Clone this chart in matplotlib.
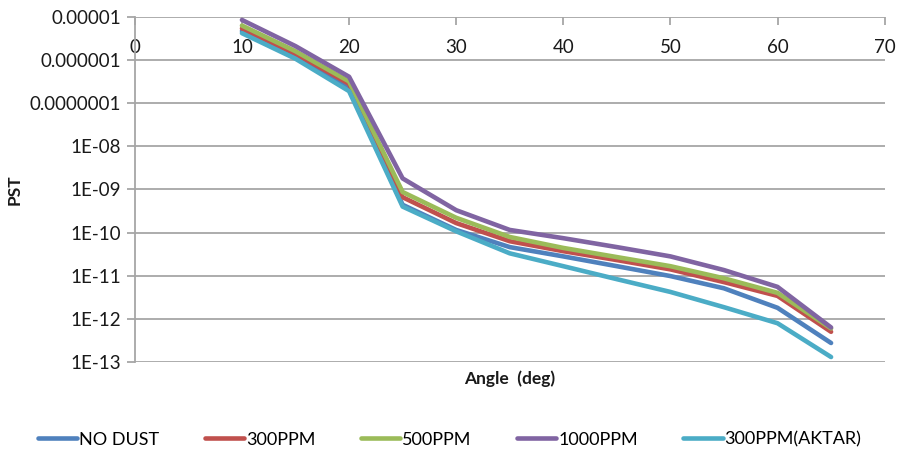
import matplotlib
matplotlib.use("Agg")
import matplotlib.pyplot as plt
from matplotlib.ticker import FixedLocator, FixedFormatter, NullLocator

# angle of incidence (deg)
angles = [10, 15, 20, 25, 30, 35, 40, 45, 50, 55, 60, 65]

# PST values
no_dust = [4.7e-6, 1.2e-6, 2.2e-7, 4.4e-10, 1.15e-10, 4.6e-11, 2.8e-11, 1.66e-11, 9.8e-12, 5.1e-12, 1.8e-12, 2.75e-13]
ppm300 = [5.4e-6, 1.4e-6, 2.8e-7, 6.6e-10, 1.66e-10, 6.3e-11, 3.7e-11, 2.3e-11, 1.4e-11, 7.1e-12, 3.4e-12, 5.0e-13]
ppm500 = [6.3e-6, 1.6e-6, 3.2e-7, 8.7e-10, 2.2e-10, 7.9e-11, 4.4e-11, 2.7e-11, 1.66e-11, 8.7e-12, 4.0e-12, 6.0e-13]
ppm1000 = [8.5e-6, 2.1e-6, 4.1e-7, 1.8e-9, 3.3e-10, 1.15e-10, 7.4e-11, 4.6e-11, 2.8e-11, 1.35e-11, 5.5e-12, 6.3e-13]
ppm300_aktar = [4.2e-6, 1.07e-6, 1.9e-7, 4.0e-10, 1.07e-10, 3.3e-11, 1.66e-11, 8.3e-12, 4.2e-12, 1.86e-12, 7.9e-13, 1.3e-13]

series_names = ["NO DUST", "300PPM", "500PPM", "1000PPM", "300PPM(AKTAR)"]
series_colors = ["#4F81BD", "#C0504D", "#9BBB59", "#8064A2", "#4BACC6"]

x_ticks = [0, 10, 20, 30, 40, 50, 60, 70]
y_ticks = [1e-5, 1e-6, 1e-7, 1e-8, 1e-9, 1e-10, 1e-11, 1e-12, 1e-13]
y_tick_labels = ["0.00001", "0.000001", "0.0000001", "1E-08", "1E-09",
                 "1E-10", "1E-11", "1E-12", "1E-13"]

plt.rcParams["font.family"] = ["Lato", "DejaVu Sans"]

fig = plt.figure(figsize=(8.99, 4.57), dpi=100)
ax = fig.add_axes([0.150, 0.208, 0.834, 0.755])

all_series = [no_dust, ppm300, ppm500, ppm1000, ppm300_aktar]
for vals, name, col in zip(all_series, series_names, series_colors):
    ax.plot(angles, vals, color=col, lw=3.3, label=name, solid_capstyle="round")

ax.set_yscale("log")
ax.set_ylim(1e-13, 1e-5)
ax.set_xlim(0, 70)
ax.yaxis.set_major_locator(FixedLocator(y_ticks))
ax.yaxis.set_major_formatter(FixedFormatter(y_tick_labels))
ax.yaxis.set_minor_locator(NullLocator())
ax.set_xticks(x_ticks)

ax.grid(axis="y", color="#A6A6A6", lw=1.3)
ax.set_axisbelow(True)
for s in ["top", "right", "bottom"]:
    ax.spines[s].set_visible(False)
ax.spines["left"].set_color("#A6A6A6")
ax.spines["left"].set_linewidth(1.3)

ax.tick_params(axis="y", direction="out", length=6, width=1.3, color="#A6A6A6",
               labelsize=13.5, labelcolor="#1A1A1A", pad=4)
ax.tick_params(axis="x", top=True, bottom=False, labeltop=True, labelbottom=False,
               direction="in", length=6, width=1.3, color="#A6A6A6",
               labelsize=13.5, labelcolor="#1A1A1A", pad=-28)

ax.set_xlabel("Angle  (deg)", fontsize=12.5, fontweight="bold", color="#1A1A1A", labelpad=6)
ax.set_ylabel("PST", fontsize=12.5, fontweight="bold", color="#1A1A1A", labelpad=5)

fig.legend(loc="lower center", ncol=5, frameon=False, fontsize=13,
           bbox_to_anchor=(0.5, -0.015), handlelength=2.2, handletextpad=0.1,
           columnspacing=2.5)

fig.savefig("out.png", dpi=100)
